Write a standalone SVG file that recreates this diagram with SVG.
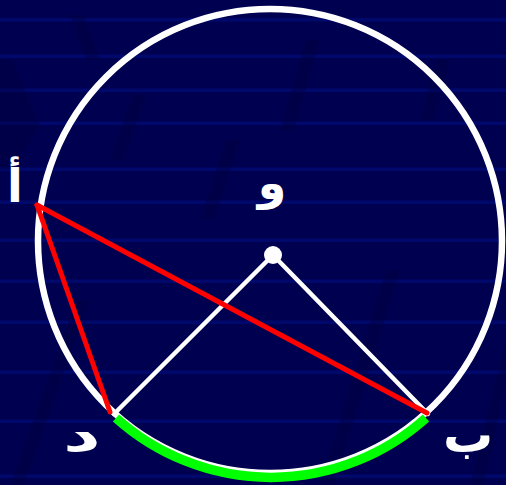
<svg xmlns="http://www.w3.org/2000/svg" width="506" height="485" viewBox="0 0 506 485">
<style>
.stripe{fill:#00086c}
.streak{fill:#00003c;opacity:0.35}
.radius{stroke:#ffffff;stroke-width:4.5;fill:none;stroke-linecap:round}
.chord{stroke:#ff0000;stroke-width:5;fill:none;stroke-linecap:round}
.lbl{fill:#ffffff;font-family:"DejaVu Sans",sans-serif;font-weight:bold}
</style>
<g id="background">
<rect x="0" y="0" width="506" height="485" fill="#000050"/>
<g>
<rect class="stripe" x="0" y="18" width="506" height="3.5"/>
<rect class="stripe" x="0" y="54.5" width="506" height="3.5"/>
<rect class="stripe" x="0" y="88.5" width="506" height="3.5"/>
<rect class="stripe" x="0" y="121.5" width="506" height="3.5"/>
<rect class="stripe" x="0" y="167.5" width="506" height="3.5"/>
<rect class="stripe" x="0" y="200.5" width="506" height="3.5"/>
<rect class="stripe" x="0" y="238.5" width="506" height="3.5"/>
<rect class="stripe" x="0" y="279.5" width="506" height="3.5"/>
<rect class="stripe" x="0" y="320.5" width="506" height="3.5"/>
<rect class="stripe" x="0" y="370.5" width="506" height="3.5"/>
<rect class="stripe" x="0" y="419.5" width="506" height="3.5"/>
<rect class="stripe" x="0" y="474.5" width="506" height="3.5"/>
</g>
<g>
<polygon class="streak" points="0,60 12,60 40,125 12,170 0,170"/>
<polygon class="streak" points="10,485 24,485 90,300 76,300"/>
<polygon class="streak" points="70,15 84,15 100,60 86,60"/>
<polygon class="streak" points="110,160 124,160 146,95 132,95"/>
<polygon class="streak" points="200,220 214,220 240,140 226,140"/>
<polygon class="streak" points="320,485 334,485 400,270 386,270"/>
<polygon class="streak" points="470,485 484,485 506,380 506,340"/>
<polygon class="streak" points="280,130 294,130 320,40 306,40"/>
<polygon class="streak" points="420,120 434,120 450,60 436,60"/>
</g>
</g>
<g id="circle">
<circle cx="270" cy="241" r="232" fill="none" stroke="#ffffff" stroke-width="6.5"/>
</g>
<g id="arc">
<path d="M 116 418 A 232 232 0 0 0 426 418" fill="none" stroke="#00ff00" stroke-width="9.5"/>
</g>
<g id="connectors">
<line class="radius" x1="273" y1="255" x2="114" y2="414"/>
<line class="radius" x1="273" y1="255" x2="428" y2="414"/>
<line class="chord" x1="37" y1="205" x2="110" y2="412"/>
<line class="chord" x1="37" y1="205" x2="427" y2="413"/>
</g>
<g id="center">
<circle cx="273" cy="255" r="9" fill="#ffffff"/>
</g>
<g id="labels">
<text class="lbl" x="15" y="202" font-size="46" text-anchor="middle">أ</text>
<text class="lbl" x="272" y="199" font-size="46" text-anchor="middle">و</text>
<text class="lbl" transform="translate(82,451) scale(1.6,1)" x="0" y="0" font-size="46" text-anchor="middle">د</text>
<text class="lbl" x="468" y="452" font-size="50" text-anchor="middle">ب</text>
</g>
</svg>
